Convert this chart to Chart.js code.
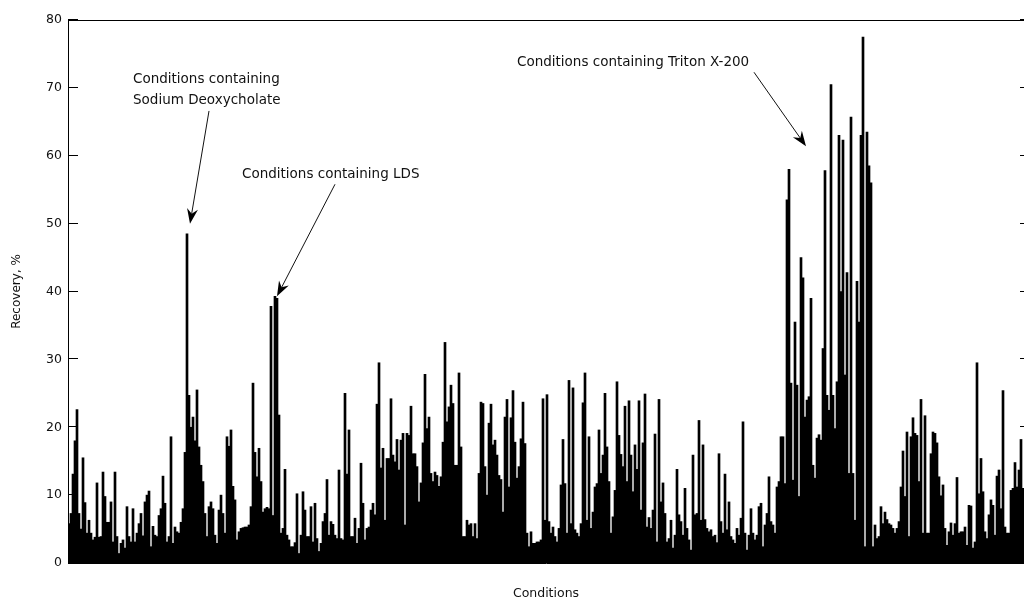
<!DOCTYPE html>
<html>
<head>
<meta charset="utf-8">
<title>Recovery by condition</title>
<script src="https://cdn.jsdelivr.net/npm/chart.js@4.4.1/dist/chart.umd.min.js"></script>
<style>
  html, body { margin: 0; padding: 0; background: #fff; }
  #wrap { width: 1024px; height: 601px; }
</style>
</head>
<body>
<div id="wrap"><canvas id="chart" width="1024" height="601"></canvas></div>
<script>
// Recovery (%) for each tested condition, in run order.
const recovery = [
  5.8, 7.3, 13.1, 18, 22.6, 7.3, 5, 15.5, 8.9, 4.4, 6.3, 4.4, 3.4, 3.8, 11.8, 3.8, 3.9, 13.4, 9.8, 6,
  6, 9, 3.1, 13.4, 3.9, 1.4, 2.9, 3.4, 2.2, 8.3, 3.9, 3.1, 8, 3.1, 4.4, 5.8,
  7.3, 4, 9, 10, 10.6, 2.4, 5.4, 4.1, 3.9, 7, 8, 12.8, 8.8, 3.1, 3.9, 18.6, 2.9, 5.3, 4.6, 4.4,
  6, 8, 16.3, 48.5, 24.7, 20, 21.5, 18, 25.5, 17.1, 14.4, 12, 7.3, 3.9, 8.3, 9, 8, 4.1, 2.9, 7.8,
  10, 7.3, 4.4, 18.6, 17.2, 19.6, 11.3, 9.3, 3.4, 4.6, 5.1, 5.2, 5.3, 5.3, 5.6, 8.3, 26.5, 16.3, 12.7, 16.9,
  12, 7.5, 8, 8.2, 8, 37.8, 7, 39.3, 39, 21.8, 4.4, 5.1, 13.8, 4.1, 3.4, 2.4, 2.4, 3, 10.2, 1.4,
  4.1, 10.5, 7.8, 3.9, 3.9, 8.3, 3.1, 8.8, 3.6, 1.7, 2.9, 6.1, 7.3, 12.3, 4.1, 6.1, 5.7, 4.1, 3.6, 13.7,
  3.6, 3.4, 25, 13.1, 19.6, 3.9, 3.9, 6.6, 2.9, 5.1, 14.7, 8.8, 3.4, 5.1, 5.3, 7.8, 8.8, 7.1, 23.4, 29.5,
  14, 16.9, 6.3, 15.4, 15.4, 24.2, 15.9, 14.9, 18.2, 13.7, 18.1, 19.1, 5.6, 19.1, 18.8, 23.1, 16.1, 16.1, 14.2, 9,
  11.8, 17.7, 27.8, 19.8, 21.5, 13.2, 12, 13.4, 12.9, 11.3, 12.7, 17.8, 32.5, 20.8, 23, 26.2, 23.5, 14.4, 14.4, 28,
  17.1, 3.9, 3.9, 6.3, 5.6, 5.8, 3.9, 5.8, 3.6, 13.2, 23.7, 23.5, 14.2, 10, 20.6, 23.4, 17.4, 18.1, 15.9, 12.9,
  12.3, 7.5, 21.5, 24.1, 11.2, 21.4, 25.4, 17.8, 12.5, 14.2, 18.3, 23.7, 17.6, 4.4, 2.4, 4.6, 2.9, 2.9, 3.1, 3.1,
  3.4, 24.2, 6.3, 24.8, 6.1, 4.4, 5.3, 3.9, 3.1, 5.1, 11.5, 18.2, 11.7, 4.4, 26.9, 5.8, 25.8, 4.9, 4.4, 3.9,
  5.8, 23.6, 28, 6.3, 18.6, 5.1, 7.5, 11.2, 11.7, 19.6, 13.2, 15.9, 25, 17.1, 12, 4.4, 6.8, 10.7, 26.7, 18.8,
  16, 14.2, 23.1, 12, 23.9, 15.9, 10.5, 17.4, 13.8, 23.9, 7.8, 17.7, 24.9, 5.3, 6.7, 5.1, 7.8, 19, 3.1, 24.1,
  9, 11.8, 7.3, 3.1, 3.6, 6.3, 2.2, 4.1, 13.8, 7.1, 6.1, 4.1, 11, 5.1, 3.4, 1.9, 15.9, 7.1, 7.3, 21,
  6.3, 17.4, 6.4, 5.1, 4.6, 4.9, 3.9, 4.1, 3, 16.1, 6.1, 4.4, 13.1, 4.9, 9, 3.9, 3.4, 2.9, 5.1, 4.1,
  6.6, 20.8, 4.4, 1.9, 4.1, 8, 4.4, 3.4, 4.1, 8.3, 8.8, 2.4, 5.6, 7.3, 12.7, 6.1, 5.6, 4.4, 11.2, 12,
  18.6, 18.6, 11.7, 53.5, 58, 26.5, 12.2, 35.5, 26.2, 9.8, 45, 42, 21.5, 24, 24.5, 39, 14.4, 12.5, 18.4, 18.9,
  18.1, 31.6, 57.8, 24.7, 22.5, 70.5, 24.7, 19.8, 26.7, 63, 40, 62.3, 27.7, 42.8, 13.2, 65.7, 13.2, 6.3, 41.5, 35.5,
  63, 77.5, 2.4, 63.5, 58.5, 56, 2.4, 5.6, 3.6, 3.9, 8.3, 5.8, 7.5, 6.4, 5.8, 5.6, 5.1, 4.4, 5.1, 6.1,
  11.2, 16.5, 9.8, 19.3, 3.9, 18.6, 21.4, 19.1, 18.8, 12, 24.1, 4.4, 21.7, 4.4, 4.4, 16.1, 19.3, 19.1, 17.7, 12.7,
  9.9, 11.5, 5.1, 2.6, 4.6, 5.9, 4.1, 5.8, 12.6, 4.4, 4.6, 4.6, 5.3, 2.6, 8.5, 8.4, 2.2, 3.1, 29.5, 10.2,
  15.4, 10.5, 4.6, 3.6, 7.1, 9.3, 8.5, 4.1, 12.8, 13.7, 8, 25.4, 5.3, 4.4, 4.4, 10.7, 11, 14.8, 11.2, 13.7,
  18.2, 11
];

// One category per condition (numbered from 1).
const conditions = recovery.map((_, i) => String(i + 1));

// Y axis tick values.
const yTicks = [0, 10, 20, 30, 40, 50, 60, 70, 80];

// Callouts: text anchor and arrow ends in data units (condition index, recovery %).
const callouts = [
  { lines: ['Conditions containing', 'Sodium Deoxycholate'], text: [32, 71.3], from: [70, 66.6], to: [60.5, 50.0] },
  { lines: ['Conditions containing LDS'], text: [86.5, 57.3], from: [133, 55.8], to: [104, 39.3] },
  { lines: ['Conditions containing Triton X-200'], text: [224, 73.8], from: [342.5, 72.3], to: [368.5, 61.4] }
];

const FONT = '"DejaVu Sans", Verdana, sans-serif';

// Box edge, inward tick marks and the arrow callouts.
const framePlugin = {
  id: 'frame',
  afterDraw(chart) {
    const { ctx, chartArea: a, scales: { x, y } } = chart;
    ctx.save();
    ctx.strokeStyle = '#000';
    ctx.lineWidth = 1;
    ctx.beginPath();
    ctx.moveTo(a.left, a.top + 0.5);
    ctx.lineTo(a.right, a.top + 0.5);
    yTicks.forEach(v => {
      const py = Math.round(y.getPixelForValue(v)) - 0.5;
      ctx.moveTo(a.left, py);
      ctx.lineTo(a.left + 10, py);
      ctx.moveTo(a.right - 4, py);
      ctx.lineTo(a.right, py);
    });
    ctx.stroke();

    ctx.fillStyle = '#111';
    ctx.font = '13.5px ' + FONT;
    ctx.textAlign = 'left';
    ctx.textBaseline = 'middle';
    callouts.forEach(c => {
      const tx = x.getPixelForValue(c.text[0]);
      const ty = y.getPixelForValue(c.text[1]);
      c.lines.forEach((line, k) => ctx.fillText(line, tx, ty + k * 21));

      const x0 = x.getPixelForValue(c.from[0]), y0 = y.getPixelForValue(c.from[1]);
      const x1 = x.getPixelForValue(c.to[0]), y1 = y.getPixelForValue(c.to[1]);
      const ang = Math.atan2(y1 - y0, x1 - x0);
      const len = 15, half = 5.5, notch = 10;
      ctx.strokeStyle = '#111';
      ctx.beginPath();
      ctx.moveTo(x0, y0);
      ctx.lineTo(x1 - Math.cos(ang) * notch, y1 - Math.sin(ang) * notch);
      ctx.stroke();
      const bx = x1 - Math.cos(ang) * len, by = y1 - Math.sin(ang) * len;
      const nx = -Math.sin(ang), ny = Math.cos(ang);
      ctx.beginPath();
      ctx.moveTo(x1, y1);
      ctx.lineTo(bx + nx * half, by + ny * half);
      ctx.lineTo(x1 - Math.cos(ang) * notch, y1 - Math.sin(ang) * notch);
      ctx.lineTo(bx - nx * half, by - ny * half);
      ctx.closePath();
      ctx.fillStyle = '#000';
      ctx.fill();
      ctx.fillStyle = '#111';
    });
    ctx.restore();
  }
};

new Chart(document.getElementById('chart'), {
  type: 'bar',
  data: {
    labels: conditions,
    datasets: [{
      data: recovery,
      backgroundColor: '#000',
      borderWidth: 0,
      barPercentage: 1,
      categoryPercentage: 1
    }]
  },
  options: {
    responsive: false,
    animation: false,
    events: [],
    layout: { padding: { top: 20, right: 0, bottom: 0, left: 0 } },
    plugins: { legend: { display: false }, tooltip: { enabled: false } },
    scales: {
      x: {
        ticks: { display: false },
        grid: { display: false, drawTicks: false },
        border: { display: true, color: '#000', width: 1 },
        title: {
          display: true, text: 'Conditions', color: '#111',
          font: { family: FONT, size: 12.5 }, padding: { top: 0, bottom: 0 }
        },
        afterFit(scale) { scale.height = 38; }
      },
      y: {
        min: 0, max: 80,
        afterBuildTicks(scale) { scale.ticks = yTicks.map(v => ({ value: v })); },
        ticks: { color: '#111', font: { family: FONT, size: 12.5 }, padding: 6 },
        grid: { display: false, drawTicks: false },
        border: { display: true, color: '#000', width: 1 },
        title: {
          display: true, text: 'Recovery, %', color: '#111',
          font: { family: FONT, size: 12 }, padding: { top: 10, bottom: 0 }
        },
        afterFit(scale) { scale.width = 68; }
      }
    }
  },
  plugins: [framePlugin]
});
</script>
</body>
</html>
